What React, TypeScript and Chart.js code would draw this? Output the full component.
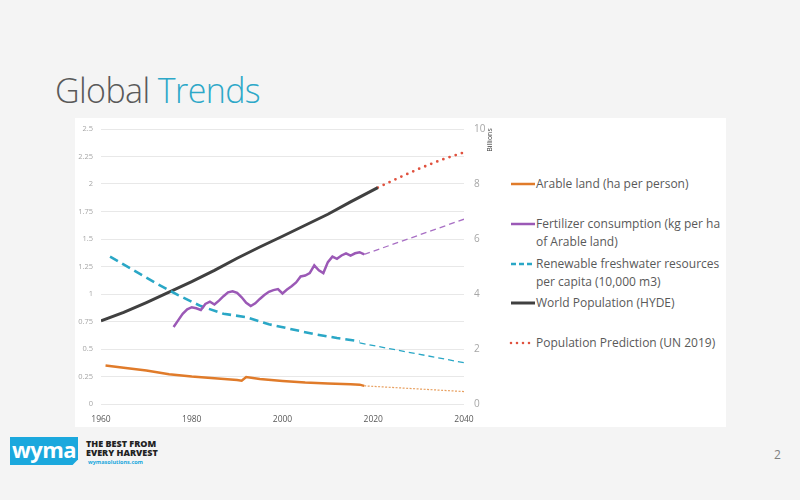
import React, { useEffect, useRef } from "react";
import { Chart, registerables } from "chart.js";

Chart.register(...registerables);

// ---- Data ----
const arableYears = [1961, 1965, 1970, 1975, 1980, 1985, 1990, 1991, 1992, 1995, 2000, 2005, 2010, 2015, 2017, 2018];
const arableValues = [0.35, 0.33, 0.305, 0.27, 0.25, 0.235, 0.218, 0.212, 0.245, 0.228, 0.21, 0.195, 0.186, 0.18, 0.176, 0.165];
const arableProjYears = [2018, 2040];
const arableProjValues = [0.165, 0.113];

const fertYears = [1976, 1977, 1978, 1979, 1980, 1981, 1982, 1983, 1984, 1985, 1986, 1987, 1988, 1989, 1990, 1991, 1992, 1993, 1994, 1995, 1996, 1997, 1998, 1999, 2000, 2001, 2002, 2003, 2004, 2005, 2006, 2007, 2008, 2009, 2010, 2011, 2012, 2013, 2014, 2015, 2016, 2017, 2018];
const fertValues = [0.70, 0.76, 0.82, 0.86, 0.88, 0.87, 0.855, 0.91, 0.93, 0.905, 0.94, 0.98, 1.015, 1.025, 1.01, 0.97, 0.92, 0.89, 0.915, 0.955, 0.99, 1.02, 1.035, 1.045, 1.005, 1.04, 1.07, 1.105, 1.16, 1.168, 1.19, 1.26, 1.215, 1.19, 1.29, 1.34, 1.32, 1.35, 1.37, 1.35, 1.37, 1.38, 1.36];
const fertProjYears = [2018, 2040];
const fertProjValues = [1.36, 1.68];

const waterYears = [1962, 1967, 1972, 1977, 1982, 1987, 1992, 1997, 2002, 2007, 2012, 2017];
const waterValues = [1.34, 1.22, 1.1, 0.99, 0.89, 0.82, 0.79, 0.725, 0.68, 0.635, 0.6, 0.57];
const waterProjYears = [2017, 2040];
const waterProjValues = [0.555, 0.375];

const popYears = [1960, 1965, 1970, 1975, 1980, 1985, 1990, 1995, 2000, 2005, 2010, 2015, 2021];
const popValues = [3.02, 3.33, 3.69, 4.07, 4.45, 4.86, 5.3, 5.71, 6.1, 6.5, 6.9, 7.35, 7.87];
const predYears = [2021, 2025, 2030, 2035, 2040];
const predValues = [7.87, 8.18, 8.55, 8.88, 9.15];

const leftTicks = { min: 0, max: 2.5, step: 0.25 };
const rightTicks = { min: 0, max: 10, step: 2 };
const xTicks = { min: 1960, max: 2040, step: 20 };

const legendItems = [
  { lines: ["Arable land (ha per person)"], color: "#E07B2A", dash: "", width: 2.5, top: 184 },
  { lines: ["Fertilizer consumption (kg per ha", "of Arable land)"], color: "#9B59B6", dash: "", width: 2.5, top: 224 },
  { lines: ["Renewable freshwater resources", "per capita (10,000 m3)"], color: "#2AA7C6", dash: "5 3", width: 2.5, top: 264 },
  { lines: ["World Population (HYDE)"], color: "#404040", dash: "", width: 3, top: 303 },
  { lines: ["Population Prediction (UN 2019)"], color: "#E0523F", dash: "0 6", width: 2.6, top: 343 },
];

const toPts = (xs: number[], ys: number[]) => xs.map((x, i) => ({ x, y: ys[i] }));

function ChartBox() {
  const ref = useRef<HTMLCanvasElement | null>(null);
  useEffect(() => {
    if (!ref.current) return;
    const billions = {
      id: "billions",
      afterDraw(chart: any) {
        const ctx = chart.ctx;
        ctx.save();
        ctx.translate(415, 27);
        ctx.rotate(-Math.PI / 2);
        ctx.fillStyle = "#404040";
        ctx.font = "7px 'Open Sans', sans-serif";
        ctx.textAlign = "center";
        ctx.textBaseline = "middle";
        ctx.fillText("Billions", 0, 0);
        ctx.restore();
      },
    };
    const chart = new Chart(ref.current, {
      type: "line",
      data: {
        datasets: [
          { label: "Arable land (ha per person)", data: toPts(arableYears, arableValues), borderColor: "#E07B2A", borderWidth: 2.5, yAxisID: "y" },
          { label: "arable proj", data: toPts(arableProjYears, arableProjValues), borderColor: "#E8A060", borderWidth: 1.2, borderDash: [2, 1.5], yAxisID: "y" },
          { label: "Fertilizer", data: toPts(fertYears, fertValues), borderColor: "#9B59B6", borderWidth: 2.5, yAxisID: "y" },
          { label: "fert proj", data: toPts(fertProjYears, fertProjValues), borderColor: "#A86FC4", borderWidth: 1.3, borderDash: [6, 4], yAxisID: "y" },
          { label: "Water", data: toPts(waterYears, waterValues), borderColor: "#2AA7C6", borderWidth: 2.6, borderDash: [9, 5], yAxisID: "y" },
          { label: "water proj", data: toPts(waterProjYears, waterProjValues), borderColor: "#2AA7C6", borderWidth: 1.3, borderDash: [6, 4], yAxisID: "y" },
          { label: "Population", data: toPts(popYears, popValues), borderColor: "#404040", borderWidth: 3, yAxisID: "y1" },
          { label: "Prediction", data: toPts(predYears, predValues), borderColor: "#E0523F", borderWidth: 2.8, borderDash: [0, 6.5], borderCapStyle: "round", yAxisID: "y1" },
        ] as any,
      },
      options: {
        animation: false,
        responsive: false,
        maintainAspectRatio: false,
        parsing: false as any,
        elements: { point: { radius: 0 }, line: { tension: 0 } },
        layout: { padding: { top: 0, left: 0, right: 0, bottom: 0 } },
        plugins: { legend: { display: false }, tooltip: { enabled: false } },
        scales: {
          x: {
            type: "linear",
            min: xTicks.min,
            max: xTicks.max,
            grid: { display: false, drawTicks: false },
            border: { display: false },
            ticks: { stepSize: xTicks.step, padding: 10, color: "#595959", font: { size: 8.5, family: "'Open Sans', sans-serif" }, callback: (v: any) => String(v), maxRotation: 0 },
            afterFit: (s: any) => { s.height = 21; },
          },
          y: {
            position: "left",
            min: leftTicks.min,
            max: leftTicks.max,
            grid: { color: "#E8E8E8", lineWidth: 1, drawTicks: false },
            border: { display: false },
            ticks: { stepSize: leftTicks.step, padding: 8, color: "#A6A6A6", font: { size: 7.5, family: "'Open Sans', sans-serif" }, callback: (v: any) => String(Math.round(Number(v) * 100) / 100) },
            afterFit: (s: any) => { s.width = 26; },
          },
          y1: {
            position: "right",
            min: rightTicks.min,
            max: rightTicks.max,
            grid: { display: false, drawTicks: false },
            border: { display: false },
            ticks: { stepSize: rightTicks.step, padding: 10, color: "#A6A6A6", font: { size: 10, family: "'Open Sans', sans-serif" } },
            afterFit: (s: any) => { s.width = 41; },
          },
        },
      } as any,
      plugins: [billions],
    });
    return () => chart.destroy();
  }, []);
  return <canvas ref={ref} width={430} height={312} style={{ position: "absolute", left: 75, top: 113, width: 430, height: 312 }} />;
}

export default function App() {
  const font = "'Open Sans', 'Noto Sans', sans-serif";
  return (
    <div style={{ position: "absolute", left: 0, top: 0, width: 800, height: 500, background: "#F4F4F4", overflow: "hidden", fontFamily: font }}>
      <div style={{ position: "absolute", left: 55, top: 67, fontSize: 34, fontWeight: 300, color: "#595959", whiteSpace: "nowrap", letterSpacing: -0.6 }}>
        Global <span style={{ color: "#2DA8C8" }}>Trends</span>
      </div>
      <div style={{ position: "absolute", left: 75, top: 118, width: 651, height: 309, background: "#FFFFFF" }} />
      <ChartBox />
      {legendItems.map((it, i) => (
        <div key={i}>
          <svg style={{ position: "absolute", left: 509, top: it.top - 5 }} width={28} height={10}>
            <line x1={2} y1={5} x2={26} y2={5} stroke={it.color} strokeWidth={it.width} strokeDasharray={it.dash || undefined} strokeLinecap={it.dash === "0 6" ? "round" : "butt"} />
          </svg>
          {it.lines.map((t, j) => (
            <div key={j} style={{ position: "absolute", left: 536, top: it.top - 9 + j * 18, fontSize: 12, lineHeight: "18px", color: "#595959", whiteSpace: "nowrap" }}>{t}</div>
          ))}
        </div>
      ))}
      <div style={{ position: "absolute", left: 10, top: 437, width: 68, height: 28, background: "#1BA8DD", clipPath: "polygon(0 0, 100% 0, 100% 80%, 92% 100%, 0 100%, 0 20%)" }} />
      <div style={{ position: "absolute", left: 10, top: 435, width: 68, height: 30, color: "#FFFFFF", fontWeight: 700, fontSize: 22, textAlign: "center", lineHeight: "28px", fontFamily: "'Open Sans', sans-serif", letterSpacing: -0.5 }}>wyma</div>
      <div style={{ position: "absolute", left: 86, top: 439, fontSize: 9, lineHeight: "9px", fontWeight: 800, color: "#222222", whiteSpace: "nowrap", fontFamily: "'Open Sans', sans-serif" }}>
        THE BEST FROM<br />EVERY HARVEST
      </div>
      <div style={{ position: "absolute", left: 88, top: 458, fontSize: 5.5, fontWeight: 700, color: "#1BA8DD", whiteSpace: "nowrap" }}>wymasolutions.com</div>
      <div style={{ position: "absolute", left: 774, top: 446, fontSize: 12, color: "#7F7F7F" }}>2</div>
    </div>
  );
}
